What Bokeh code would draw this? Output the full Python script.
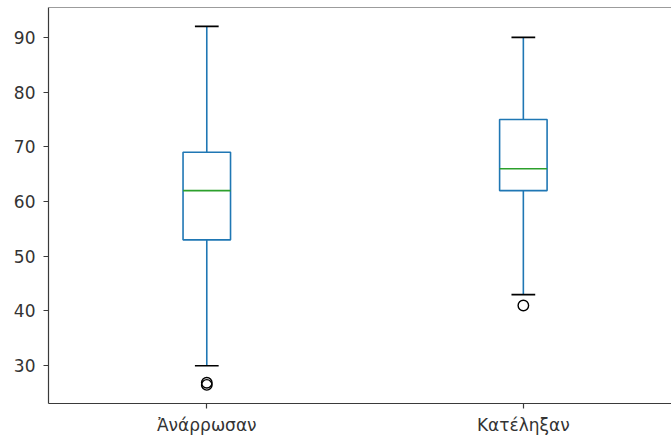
from bokeh.plotting import figure
from bokeh.models import Range1d, FixedTicker, Span
from bokeh.embed import file_html
from bokeh.resources import INLINE

# Box plot statistics per group
categories = ["Ἀνάρρωσαν", "Κατέληξαν"]
positions = [1, 2]
whisker_low = [30, 43]
q1 = [53, 62]
median = [62, 66]
q3 = [69, 75]
whisker_high = [92, 90]
outlier_x = [1, 1, 2]
outlier_y = [26.5, 26.9, 41]

BOX_W = 0.15
CAP_W = 0.075
BLUE = "#1f77b4"
GREEN = "#2ca02c"
TEXT = "#333333"
SPINE = "#3a3a3a"

p = figure(width=671, height=439, output_backend="svg", toolbar_location=None,
           x_range=Range1d(0.5, 2.468), y_range=Range1d(23.1, 95.45),
           min_border_left=48, min_border_top=7, min_border_bottom=36,
           min_border_right=0)
p.outline_line_color = None
p.xgrid.visible = False
p.ygrid.visible = False
p.background_fill_color = "white"
p.border_fill_color = "white"

# top spine
p.add_layout(Span(location=95.45, dimension="width", line_color=SPINE, line_width=1.2))

# whiskers
p.segment(x0=positions, y0=whisker_low, x1=positions, y1=q1, line_color=BLUE, line_width=1.6)
p.segment(x0=positions, y0=q3, x1=positions, y1=whisker_high, line_color=BLUE, line_width=1.6)

# caps
cap_left = [x - CAP_W / 2 for x in positions]
cap_right = [x + CAP_W / 2 for x in positions]
p.segment(x0=cap_left, y0=whisker_low, x1=cap_right, y1=whisker_low, line_color="black", line_width=1.6)
p.segment(x0=cap_left, y0=whisker_high, x1=cap_right, y1=whisker_high, line_color="black", line_width=1.6)

# boxes
p.vbar(x=positions, width=BOX_W, bottom=q1, top=q3, fill_color=None,
       line_color=BLUE, line_width=1.6)

# medians
box_left = [x - BOX_W / 2 for x in positions]
box_right = [x + BOX_W / 2 for x in positions]
p.segment(x0=box_left, y0=median, x1=box_right, y1=median, line_color=GREEN, line_width=1.6)

# outliers
p.scatter(x=outlier_x, y=outlier_y, size=10.5, marker="circle", fill_color=None,
          line_color="black", line_width=1.4)

# axes
for ax in (p.xaxis[0], p.yaxis[0]):
    ax.axis_line_color = SPINE
    ax.axis_line_width = 1.2
    ax.major_tick_line_color = SPINE
    ax.major_tick_line_width = 1.2
    ax.major_tick_out = 5
    ax.major_tick_in = 0
    ax.minor_tick_line_color = None
    ax.major_label_text_font = "DejaVu Sans"
    ax.major_label_text_font_size = "17px"
    ax.major_label_text_color = TEXT

p.yaxis.ticker = FixedTicker(ticks=[30, 40, 50, 60, 70, 80, 90])
p.yaxis.major_label_standoff = 8
p.xaxis.ticker = FixedTicker(ticks=positions)
p.xaxis.major_label_overrides = {pos: name for pos, name in zip(positions, categories)}
p.xaxis.major_label_standoff = 6

open("out.html", "w").write(file_html(p, INLINE))
